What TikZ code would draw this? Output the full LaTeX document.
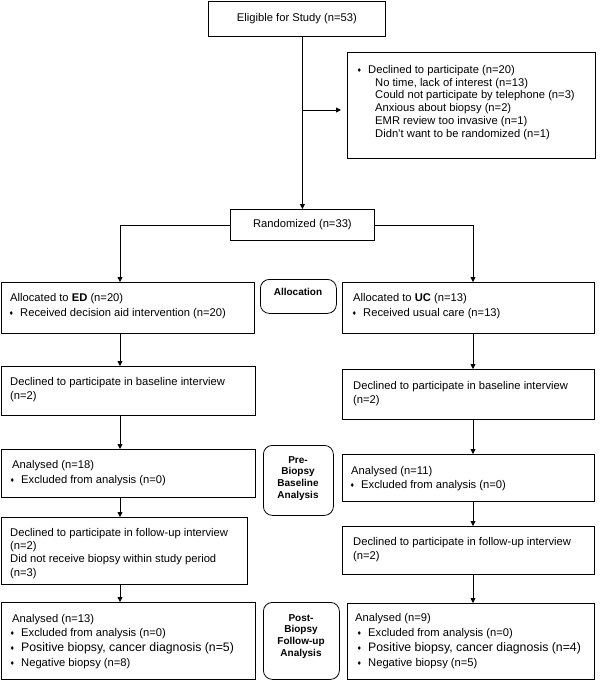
\documentclass[tikz,border=0pt]{standalone}
\usepackage{fontspec}
\setmainfont{Liberation Sans}
\newfontfamily\symfont{DejaVu Sans}
\usetikzlibrary{arrows.meta}
\newcommand{\bul}{\llap{\raisebox{1.2pt}{\symfont\fontsize{5.5}{6}\selectfont ♦}\hspace{6.5pt}}}
\newcommand{\fl}{\rule{0pt}{9pt}}
\newcommand{\flb}{\rule{0pt}{8pt}}
\tikzset{
  box/.style={draw, line width=0.8pt, anchor=north west, inner sep=0pt},
  rbox/.style={box, rounded corners=9pt},
  txt/.style={anchor=north west, inner sep=0pt, align=left},
  lbl/.style={inner sep=0pt, align=center, font=\bfseries\fontsize{10}{11.7}\selectfont},
  arr/.style={line width=0.8pt, -{Triangle[length=5pt,width=5pt]}},
  ln/.style={line width=0.8pt}
}
\begin{document}
\begin{tikzpicture}[x=1pt,y=-1pt,font=\fontsize{11.2}{14}\selectfont]
\useasboundingbox (0,0) rectangle (600,680);
% boxes
\node[box, minimum width=177pt, minimum height=35pt] (elig) at (208,0.5) {Eligible for Study (n=53)};
\node[box, minimum width=248pt, minimum height=106pt] (decl) at (347,52) {};
\node[box, minimum width=144pt, minimum height=31pt] (rand) at (230,209) {Randomized (n=33)};
\node[box, minimum width=253pt, minimum height=51pt] (edalloc) at (1,282) {};
\node[box, minimum width=252pt, minimum height=51pt] (ucalloc) at (342,282) {};
\node[rbox, minimum width=76pt, minimum height=34pt] (alloc) at (260,279) {};
\node[box, minimum width=254pt, minimum height=49pt] (edbase) at (1,366) {};
\node[box, minimum width=252pt, minimum height=50pt] (ucbase) at (342,369) {};
\node[box, minimum width=254pt, minimum height=48pt] (edanal) at (1,449) {};
\node[box, minimum width=252pt, minimum height=47pt] (ucanal) at (342,454) {};
\node[rbox, minimum width=70pt, minimum height=70pt] (pre) at (263,445) {};
\node[box, minimum width=246pt, minimum height=67pt] (edfu) at (1,517) {};
\node[box, minimum width=252pt, minimum height=48pt] (ucfu) at (342,526) {};
\node[box, minimum width=254pt, minimum height=77pt] (edfin) at (1,602) {};
\node[box, minimum width=247pt, minimum height=76pt] (ucfin) at (347,603) {};
\node[rbox, minimum width=76pt, minimum height=77pt] (post) at (263,602) {};
% texts
\node[txt, font=\fontsize{11.2}{12.8}\selectfont] (tdecl) at (368,64) {\fl\bul Declined to participate (n=20)\\
\hspace*{7pt}No time, lack of interest (n=13)\\
\hspace*{7pt}Could not participate by telephone (n=3)\\
\hspace*{7pt}Anxious about biopsy (n=2)\\
\hspace*{7pt}EMR review too invasive (n=1)\\
\hspace*{7pt}Didn’t want to be randomized (n=1)};
\node[txt, font=\fontsize{11.2}{15}\selectfont] (tedalloc) at (10,292) {\fl Allocated to \textbf{ED} (n=20)\\\hspace*{10pt}\bul Received decision aid intervention (n=20)};
\node[txt, font=\fontsize{11.2}{15}\selectfont] (tucalloc) at (353,292) {\fl Allocated to \textbf{UC} (n=13)\\\hspace*{10pt}\bul Received usual care (n=13)};
\node[lbl, anchor=base] (talloc) at (298,295.6) {Allocation};
\node[txt] (tedbase) at (10,376) {\fl Declined to participate in baseline interview\\(n=2)};
\node[txt] (tucbase) at (353,380) {\fl Declined to participate in baseline interview\\(n=2)};
\node[txt, font=\fontsize{11.2}{15}\selectfont] (tedanal) at (12,459) {\fl Analysed (n=18)\\\hspace*{9pt}\bul Excluded from analysis (n=0)};
\node[txt] (tucanal) at (351,465) {\fl Analysed (n=11)\\\hspace*{10pt}\bul Excluded from analysis (n=0)};
\node[lbl, anchor=north] (tpre) at (298,455) {\flb Pre-\\Biopsy\\Baseline\\Analysis};
\node[txt, font=\fontsize{11.2}{13.3}\selectfont] (tedfu) at (10,527) {\fl Declined to participate in follow-up interview\\(n=2)\\Did not receive biopsy within study period\\(n=3)};
\node[txt] (tucfu) at (353,536) {\fl Declined to participate in follow-up interview\\(n=2)};
\node[txt, font=\fontsize{11.2}{14.7}\selectfont] (tedfin) at (12,613) {\fl Analysed (n=13)\\\hspace*{9pt}\bul Excluded from analysis (n=0)\\\hspace*{9pt}\bul{\fontsize{12.3}{14.7}\selectfont Positive biopsy, cancer diagnosis (n=5)}\\\hspace*{9pt}\bul Negative biopsy (n=8)};
\node[txt, font=\fontsize{11.2}{15}\selectfont] (tucfin) at (355,612) {\fl Analysed (n=9)\\\hspace*{13pt}\bul Excluded from analysis (n=0)\\\hspace*{13pt}\bul{\fontsize{12.3}{15}\selectfont Positive biopsy, cancer diagnosis (n=4)}\\\hspace*{13pt}\bul Negative biopsy (n=5)};
\node[lbl, anchor=north] (tpost) at (301,613) {\flb Post-\\Biopsy\\Follow-up\\Analysis};
% connectors
\coordinate (j1) at (302,110);
\coordinate (edx) at (120,0);
\coordinate (ucx) at (473,0);
\draw[arr] (elig.south -| rand.north) -- (rand.north);
\draw[arr, shorten >=6pt] (j1) -- (j1 -| decl.west);
\draw[arr] (rand.west) -| (edx |- edalloc.north);
\draw[arr] (rand.east) -| (ucx |- ucalloc.north);
\draw[arr] (edalloc.south -| edx) -- (edbase.north -| edx);
\draw[arr] (edbase.south -| edx) -- (edanal.north -| edx);
\draw[arr] (edanal.south -| edx) -- (edfu.north -| edx);
\draw[arr] (edfu.south -| edx) -- (edfin.north -| edx);
\draw[arr] (ucalloc.south -| ucx) -- (ucbase.north -| ucx);
\draw[arr] (ucbase.south -| ucx) -- (ucanal.north -| ucx);
\draw[arr] (ucanal.south -| ucx) -- (ucfu.north -| ucx);
\draw[arr] (ucfu.south -| ucx) -- (ucfin.north -| ucx);
\end{tikzpicture}
\end{document}
